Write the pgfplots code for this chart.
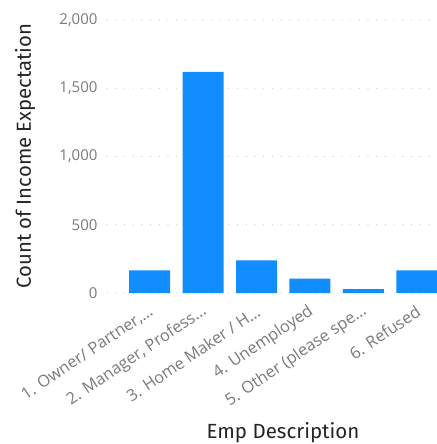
\documentclass[border=0pt]{standalone}
\usepackage{pgfplots}
\pgfplotsset{compat=1.18}
\usepackage{fontspec}
\setmainfont{Open Sans}
\newfontfamily\titlefont{Fira Sans}
\definecolor{barblue}{HTML}{118DFF}
\definecolor{ticktext}{HTML}{7A7A7A}
\definecolor{titletext}{HTML}{252423}
\definecolor{griddot}{HTML}{C8C8C8}
\begin{document}
\begin{tikzpicture}
\useasboundingbox (0,0) rectangle (436pt,444pt);
\begin{axis}[
  at={(107pt,151pt)}, anchor=south west,
  scale only axis, width=329pt, height=273pt,
  xmin=-0.8, xmax=5.36, ymin=0, ymax=2000,
  clip=false,
  axis line style={draw=none},
  major tick length=0pt,
  ytick={0,500,1000,1500,2000},
  xtick={0,1,2,3,4,5},
  xticklabels={{1. Owner/ Partner,…}, {2. Manager, Profess…}, {3. Home Maker / H…}, {4. Unemployed}, {5. Other (please spe…}, {6. Refused}},
  ymajorgrids,
  major grid style={griddot, line width=1.2pt, line cap=round, dash pattern=on 0pt off 8.7pt},
  /pgf/number format/.cd, 1000 sep={,}, assume math mode=true,
  /pgfplots/.cd,
  yticklabel style={font=\fontsize{15}{15}\selectfont, text=ticktext, xshift=-6pt},
  xticklabel style={font=\fontsize{16.3}{16}\selectfont, text=ticktext, rotate=34, anchor=east, inner sep=0pt, xshift=-8pt, yshift=-15pt},
  ylabel={Count of Income Expectation},
  xlabel={Emp Description},
  ylabel style={font=\titlefont\fontsize{20.3}{20}\selectfont, text=titletext, at={(axis description cs:-0.249,0.502)}, anchor=center},
  xlabel style={font=\titlefont\fontsize{20.5}{20}\selectfont, text=titletext, at={(axis description cs:0.535,-0.513)}, anchor=center},
  ybar, bar width=41pt, bar shift=0pt,
]
\addplot[fill=barblue, draw=none] coordinates {(0,165) (1,1620) (2,239) (3,105) (4,29) (5,165)};
\end{axis}
\end{tikzpicture}
\end{document}
